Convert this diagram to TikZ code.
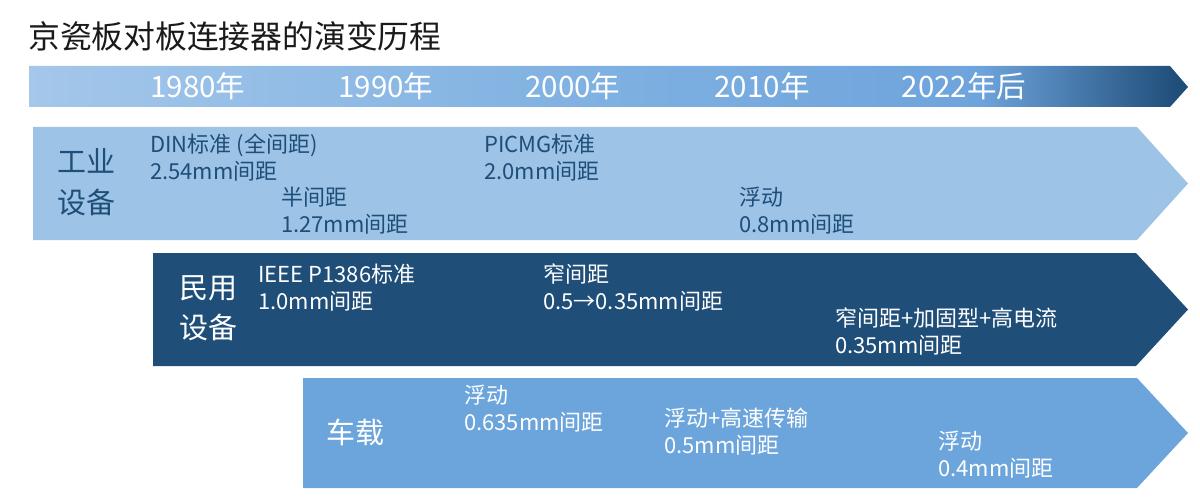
\documentclass[tikz,border=0pt]{standalone}
\usepackage{fontspec}
\setmainfont{Noto Sans CJK SC}
\definecolor{lightb}{RGB}{157,195,230}
\definecolor{darkb}{RGB}{31,78,121}
\definecolor{midb}{RGB}{108,165,219}
\definecolor{tlA}{RGB}{164,199,234}
\definecolor{tlB}{RGB}{126,176,225}
\definecolor{tlC}{RGB}{110,164,220}
\definecolor{titlec}{RGB}{26,26,26}
\pgfdeclarehorizontalshading{tlshade}{100bp}{color(0bp)=(tlA); color(25bp)=(tlA); color(50bp)=(tlB); color(66bp)=(tlC); color(74.5bp)=(darkb); color(100bp)=(darkb)}
\tikzset{
  lbl/.style={anchor=base west, inner sep=0pt, font=\fontsize{22}{26}\selectfont},
  cat/.style={anchor=base west, inner sep=0pt, font=\fontsize{29}{34}\selectfont},
  yr/.style={anchor=base, inner sep=0pt, text=white, font=\fontsize{29.5}{34}\selectfont},
}
\begin{document}
\begin{tikzpicture}[x=1pt,y=-1pt]
\useasboundingbox (0,0) rectangle (1200,500);
% title
\node[anchor=base west, inner sep=0pt, text=titlec, font=\fontsize{31.8}{36}\selectfont] (title) at (28,49) {京瓷板对板连接器的演变历程};
% timeline bar
\shade[shading=tlshade] (29,66) -- (1170,66) -- (1188,87) -- (1170,107) -- (29,107) -- cycle;
\node[yr] (y1980) at (198,97.5) {1980年};
\node[yr] (y1990) at (386,97.5) {1990年};
\node[yr] (y2000) at (573,97.5) {2000年};
\node[yr] (y2010) at (762,97.5) {2010年};
\node[yr] (y2022) at (964,97.5) {2022年后};
% arrows
\fill[lightb] (33,127) -- (1137,127) -- (1188,183.5) -- (1137,240) -- (33,240) -- cycle;
\fill[darkb] (153,253) -- (1136,253) -- (1188,309.5) -- (1136,366) -- (153,366) -- cycle;
\fill[midb] (303,378) -- (1137,378) -- (1188,433) -- (1137,488) -- (303,488) -- cycle;
% industrial
\begin{scope}[text=darkb]
\node[cat] (ind1) at (57,172) {工业};
\node[cat] (ind2) at (57,214) {设备};
\node[lbl] (din1) at (150,152.5) {DIN标准 (全间距)};
\node[lbl] (din2) at (150,179.5) {2.54mm间距};
\node[lbl] (half1) at (281,205.5) {半间距};
\node[lbl] (half2) at (281,232.5) {1.27mm间距};
\node[lbl] (pic1) at (484,152.5) {PICMG标准};
\node[lbl] (pic2) at (484,179.5) {2.0mm间距};
\node[lbl] (fl1) at (739,205.5) {浮动};
\node[lbl] (fl2) at (739,232.5) {0.8mm间距};
\end{scope}
% civil
\begin{scope}[text=white]
\node[cat] (civ1) at (179,298.5) {民用};
\node[cat] (civ2) at (179,338.5) {设备};
\node[lbl] (ieee1) at (258,282.5) {IEEE P1386标准};
\node[lbl] (ieee2) at (258,309.5) {1.0mm间距};
\node[lbl] (nar1) at (543,282.5) {窄间距};
\node[lbl] (nar2) at (543,309.5) {0.5→0.35mm间距};
\node[lbl] (nhc1) at (835,326.5) {窄间距+加固型+高电流};
\node[lbl] (nhc2) at (835,353.5) {0.35mm间距};
% automotive
\node[cat] (car) at (326,443) {车载};
\node[lbl] (cf1) at (464,403.5) {浮动};
\node[lbl] (cf2) at (464,430.5) {0.635mm间距};
\node[lbl] (hs1) at (664,426.5) {浮动+高速传输};
\node[lbl] (hs2) at (664,453.5) {0.5mm间距};
\node[lbl] (f41) at (938,449.5) {浮动};
\node[lbl] (f42) at (938,476.5) {0.4mm间距};
\end{scope}
\end{tikzpicture}
\end{document}
